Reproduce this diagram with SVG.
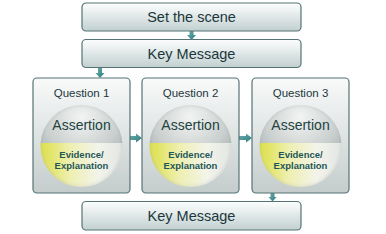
<svg xmlns="http://www.w3.org/2000/svg" width="386" height="234" viewBox="0 0 386 234">
<defs>
<linearGradient id="gBox" x1="0" y1="0" x2="0" y2="1">
<stop offset="0" stop-color="#fdfefe"/>
<stop offset="1" stop-color="#c2d0d0"/>
</linearGradient>
<linearGradient id="gQ" x1="0" y1="0" x2="0" y2="1">
<stop offset="0" stop-color="#f9fafa"/>
<stop offset="1" stop-color="#c4cdcc"/>
</linearGradient>
<radialGradient id="gTop" cx="0.5" cy="0.15" r="0.75">
<stop offset="0" stop-color="#f2f4f3"/>
<stop offset="0.6" stop-color="#c9cfce"/>
<stop offset="1" stop-color="#97a1a0"/>
</radialGradient>
<linearGradient id="gBot" x1="0" y1="0" x2="1" y2="0">
<stop offset="0" stop-color="#dcdf44"/>
<stop offset="0.35" stop-color="#eeefae"/>
<stop offset="0.7" stop-color="#f3f4ea"/>
<stop offset="1" stop-color="#e2e6e3"/>
</linearGradient>
<radialGradient id="gEdge" cx="0.5" cy="0.5" r="0.5">
<stop offset="0.85" stop-color="#ffffff" stop-opacity="0"/>
<stop offset="1" stop-color="#9aa6a5" stop-opacity="0.2"/>
</radialGradient>
<linearGradient id="gArrow" x1="0" y1="0" x2="1" y2="1">
<stop offset="0" stop-color="#6aaeae"/>
<stop offset="1" stop-color="#2f7b7d"/>
</linearGradient>
<clipPath id="cTop"><rect x="-50" y="-50" width="100" height="47"/></clipPath>
<clipPath id="cBot"><rect x="-50" y="-3" width="100" height="60"/></clipPath>
<g id="disc">
<circle r="41" fill="url(#gTop)" clip-path="url(#cTop)"/>
<circle r="41" fill="url(#gBot)" clip-path="url(#cBot)"/>
<circle r="41" fill="url(#gEdge)"/>
</g>
</defs>
<style>
.box{fill:url(#gBox);stroke:#557374;stroke-width:1.2}
.q{fill:url(#gQ);stroke:#557374;stroke-width:1.2}
.t{font-family:"Liberation Sans",Arial,sans-serif;fill:#1b373c;text-anchor:middle}
.big{font-size:14.5px}
.qt{font-size:11.5px}
.as{font-size:14px;fill:#22433e}
.ev{font-size:9.5px;font-weight:bold;fill:#1e5757}
.arr{fill:url(#gArrow)}
</style>
<rect width="386" height="234" fill="#ffffff"/>
<g id="connectors">
<polygon class="arr" points="189.5,31 193.5,31 193.5,35 196,35 191.5,40 187,35 189.5,35"/>
<polygon class="arr" points="98,68 102,68 102,73 104.5,73 100,78 95.5,73 98,73"/>
<polygon class="arr" points="130,136 136,136 136,133.5 142,138 136,142.5 136,140 130,140"/>
<polygon class="arr" points="239,136 246,136 246,133.5 252,138 246,142.5 246,140 239,140"/>
<polygon class="arr" points="270.5,193 274.5,193 274.5,197 276.5,197 272.5,201.5 268.5,197 270.5,197"/>
</g>
<g id="set-scene">
<rect class="box" x="82" y="3" width="219" height="28" rx="4"/>
<text class="t big" x="191.5" y="22">Set the scene</text>
</g>
<g id="key-message-top">
<rect class="box" x="82" y="39.5" width="219" height="28" rx="4"/>
<text class="t big" x="191.5" y="59">Key Message</text>
</g>
<g id="question-1">
<rect class="q" x="33" y="78" width="97" height="115" rx="4"/>
<text class="t qt" x="81.5" y="97">Question 1</text>
<use href="#disc" x="81.5" y="146"/>
<text class="t as" x="81.5" y="130">Assertion</text>
<text class="t ev" x="81.5" y="157.5">Evidence/</text>
<text class="t ev" x="81.5" y="168.5">Explanation</text>
</g>
<g id="question-2">
<rect class="q" x="142" y="78" width="97" height="115" rx="4"/>
<text class="t qt" x="190.5" y="97">Question 2</text>
<use href="#disc" x="190.5" y="146"/>
<text class="t as" x="190.5" y="130">Assertion</text>
<text class="t ev" x="190.5" y="157.5">Evidence/</text>
<text class="t ev" x="190.5" y="168.5">Explanation</text>
</g>
<g id="question-3">
<rect class="q" x="252" y="78" width="97" height="115" rx="4"/>
<text class="t qt" x="300.5" y="97">Question 3</text>
<use href="#disc" x="300.5" y="146"/>
<text class="t as" x="300.5" y="130">Assertion</text>
<text class="t ev" x="300.5" y="157.5">Evidence/</text>
<text class="t ev" x="300.5" y="168.5">Explanation</text>
</g>
<g id="key-message-bottom">
<rect class="box" x="82" y="201.5" width="219" height="28.5" rx="4"/>
<text class="t big" x="191.5" y="221">Key Message</text>
</g>
</svg>
